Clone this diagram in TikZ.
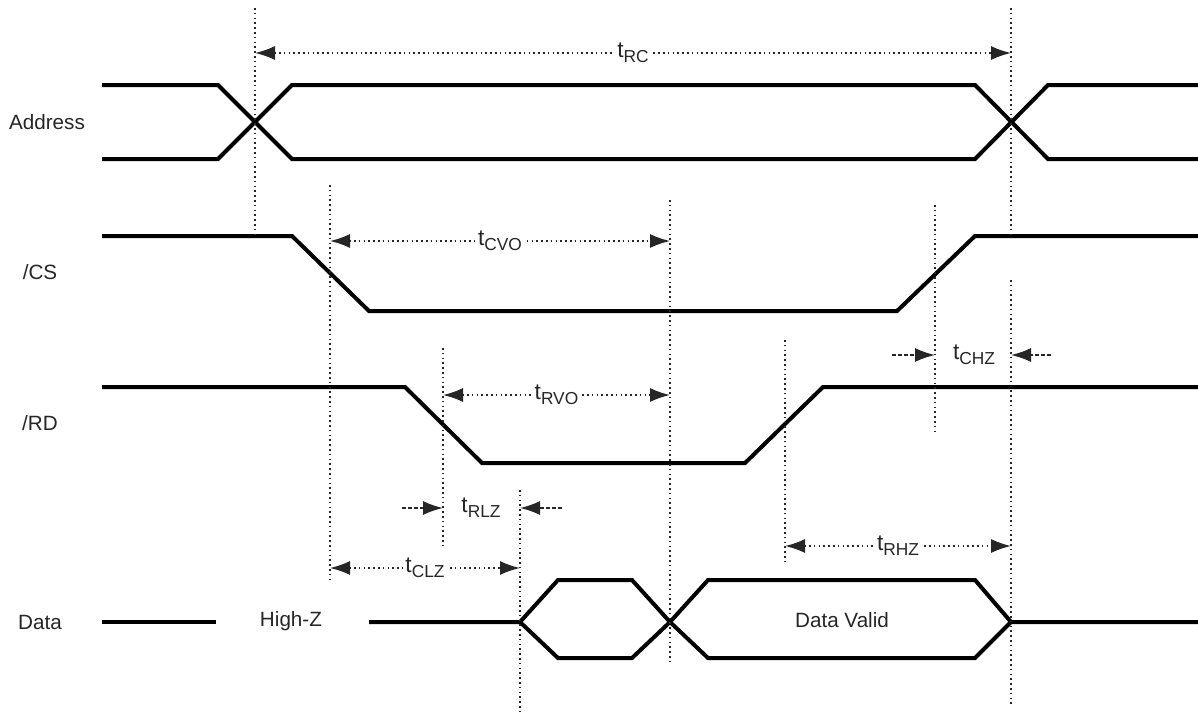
\documentclass[tikz,border=0pt]{standalone}
\usepackage{fontspec}
\setmainfont{Liberation Sans}
\usetikzlibrary{arrows.meta}
\newcommand{\tsub}[1]{{\fontsize{17}{18}\selectfont t}\raisebox{-0.45ex}{\fontsize{13}{14}\selectfont #1}}
\begin{document}
\begin{tikzpicture}[x=0.75pt,y=-0.75pt,
  sig/.style={line width=3pt, line join=miter},
  vguide/.style={line width=1.25pt, dash pattern=on 1.2pt off 2.4pt, black!85},
  dimline/.style={line width=1.25pt, dash pattern=on 1.2pt off 2.4pt, black!85,
     {Latex[length=15pt,width=10.5pt]}-{Latex[length=15pt,width=10.5pt]}},
  tipline/.style={line width=1.25pt, dash pattern=on 3pt off 1.6pt, black!85,
     -{Latex[length=15pt,width=10.5pt]}},
  lab/.style={font=\fontsize{15.5}{18}\selectfont, inner sep=1pt, text=black!85},
  tl/.style={lab, fill=white, inner sep=2pt}
]
\useasboundingbox (0,0) rectangle (1198,717);

% signal names
\node[lab] (addr) at (47,122) {Address};
\node[lab] (cs) at (40,272) {/CS};
\node[lab] (rd) at (40,423) {/RD};
\node[lab] (data) at (40,622) {Data};
\node[lab] (hiz) at (291,621) {High-Z};
\node[lab] (dv) at (842,620) {Data Valid};

% Address
\draw[sig] (102,85) -- (218,85) -- (292,159) -- (975,159) -- (1048,85) -- (1198,85);
\draw[sig] (102,159) -- (218,159) -- (292,85) -- (975,85) -- (1048,159) -- (1198,159);
% /CS
\draw[sig] (102,236) -- (292,236) -- (369,311) -- (897,311) -- (975,236) -- (1198,236);
% /RD
\draw[sig] (102,387) -- (405,387) -- (482,463) -- (745,463) -- (823,387) -- (1198,387);
% Data
\draw[sig] (102,622) -- (216,622);
\draw[sig] (369,622) -- (520,622) -- (558,580) -- (632,580) -- (670,622) -- (708,658) -- (975,658) -- (1011,622) -- (1198,622);
\draw[sig] (520,622) -- (558,658) -- (632,658) -- (670,622) -- (708,580) -- (975,580) -- (1011,622);

% guide lines
\coordinate (g1a) at (255,8);   \coordinate (g1b) at (255,234);
\coordinate (g2a) at (1011,8);  \coordinate (g2b) at (1011,236);
\coordinate (g3a) at (1011,280);\coordinate (g3b) at (1011,705);
\coordinate (g4a) at (330,185); \coordinate (g4b) at (330,583);
\coordinate (g5a) at (670,200); \coordinate (g5b) at (670,665);
\coordinate (g6a) at (443,348); \coordinate (g6b) at (443,545);
\coordinate (g7a) at (520,490); \coordinate (g7b) at (520,715);
\coordinate (g8a) at (785,340); \coordinate (g8b) at (785,565);
\coordinate (g9a) at (935,205); \coordinate (g9b) at (935,432);
\foreach \g in {1,...,9}{\draw[vguide] (g\g a) -- (g\g b);}

% dimension arrows
\coordinate (rcL) at (255,53);  \coordinate (rcR) at (1011,53);
\draw[dimline] (rcL) -- node[tl] (trc) {\tsub{RC}} (rcR);
\coordinate (cvoL) at (330,241); \coordinate (cvoR) at (670,241);
\draw[dimline] (cvoL) -- node[tl] (tcvo) {\tsub{CVO}} (cvoR);
\coordinate (rvoL) at (443,395); \coordinate (rvoR) at (670,395);
\draw[dimline] (rvoL) -- node[tl] (trvo) {\tsub{RVO}} (rvoR);
\coordinate (clzL) at (330,568); \coordinate (clzR) at (520,568);
\draw[dimline] (clzL) -- node[tl] (tclz) {\tsub{CLZ}} (clzR);
\coordinate (rhzL) at (785,546); \coordinate (rhzR) at (1011,546);
\draw[dimline] (rhzL) -- node[tl] (trhz) {\tsub{RHZ}} (rhzR);

% tCHZ
\node[lab] (tchz) at (974,355) {\tsub{CHZ}};
\coordinate (chz1) at (892,355); \coordinate (chz2) at (935,355);
\coordinate (chz3) at (1051,355); \coordinate (chz4) at (1011,355);
\draw[tipline] (chz1) -- (chz2);
\draw[tipline] (chz3) -- (chz4);
% tRLZ
\node[lab] (trlz) at (481,508) {\tsub{RLZ}};
\coordinate (rlz1) at (402,508); \coordinate (rlz2) at (443,508);
\coordinate (rlz3) at (562,508); \coordinate (rlz4) at (520,508);
\draw[tipline] (rlz1) -- (rlz2);
\draw[tipline] (rlz3) -- (rlz4);
\end{tikzpicture}
\end{document}
